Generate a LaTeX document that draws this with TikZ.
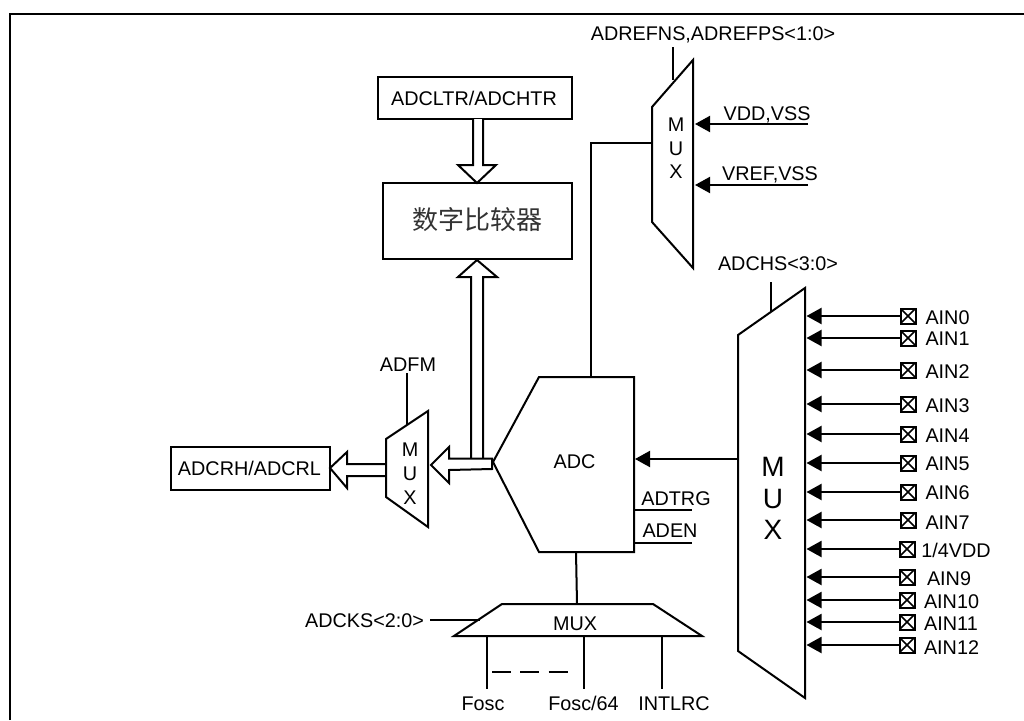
\documentclass[tikz,border=0pt]{standalone}
\usepackage{fontspec}
\setmainfont{Liberation Sans}
\newfontfamily\cjk{Noto Sans CJK SC}
\usetikzlibrary{arrows.meta}
\tikzset{
  x=1pt,y=-1pt,
  ln/.style={line width=2pt,line join=miter,black},
  box/.style={draw,line width=2pt,fill=white,inner sep=0pt,anchor=center},
  lab/.style={inner sep=0pt,font=\fontsize{19.8pt}{21pt}\selectfont,anchor=center,text height=14.2pt,text depth=0pt},
  biglab/.style={inner sep=0pt,font=\fontsize{28pt}{29pt}\selectfont,anchor=center,text height=20pt,text depth=0pt},
  sig/.style={ln,-{Triangle[length=15pt,width=16pt]}},
  pin/.style={draw,line width=2pt,minimum size=15pt,inner sep=0pt,path picture={\draw[line width=1.6pt] (path picture bounding box.north west)--(path picture bounding box.south east) (path picture bounding box.north east)--(path picture bounding box.south west);}},
  hollow/.style={ln,fill=white}
}
\begin{document}
\begin{tikzpicture}
\useasboundingbox (0,0) rectangle (1024,720);
\coordinate (fa) at (10,14);
\coordinate (fb) at (1024,14);
\coordinate (fc) at (10,720);
\draw[line width=2.6pt] (fc)--(fa)--(fb);

% boxes
\node[box,minimum width=194pt,minimum height=42pt] (ltr) at (475,98) {};
\node[lab] (ltrt) at (474,98) {ADCLTR/ADCHTR};
\node[box,minimum width=189pt,minimum height=76pt] (cmp) at (477.5,221) {};
\node[inner sep=0pt,font=\fontsize{26pt}{27pt}\selectfont\cjk,text=black!80] (cmpt) at (477.5,220) {数字比较器};
\node[box,minimum width=159pt,minimum height=43pt] (crh) at (250.5,468.5) {};
\node[lab] (crht) at (249.5,468) {ADCRH/ADCRL};

% hollow arrows
\draw[hollow] (473,119)--(473,165)--(458,165)--(477,183)--(496,165)--(483,165)--(483,119);
\draw[hollow] (471,458.5)--(471,277)--(458,277)--(477,260)--(497,277)--(483,277)--(483,458.5);
\draw[hollow] (492,458.5)--(449,458.5)--(449,447)--(431,465)--(449,483)--(449,470)--(492,469)--cycle;
\draw[hollow] (386,464)--(347,464)--(347,452)--(330,468)--(347,488)--(347,476)--(386,476);

% MUX adfm
\coordinate (ma) at (386,439);\coordinate (mb) at (428,411);\coordinate (mc) at (428,527);\coordinate (md) at (386,497);
\draw[ln] (ma)--(mb)--(mc)--(md)--cycle;
\node[lab] (m1) at (410,449) {M};
\node[lab] (m2) at (410,473) {U};
\node[lab] (m3) at (410,497) {X};
\node[lab] (adfm) at (408,364) {ADFM};
\coordinate (adfmb) at (407,425);
\draw[ln] (407,373)--(adfmb);

% ADC
\coordinate (a1) at (539,377);\coordinate (a2) at (634,377);\coordinate (a3) at (634,552);\coordinate (a4) at (539,552);\coordinate (a5) at (493,462);
\draw[ln] (a1)--(a2)--(a3)--(a4)--(a5)--cycle;
\node[lab] (adc) at (574.5,461) {ADC};
\coordinate (t1) at (634,510);\coordinate (t2) at (692,510);
\coordinate (e1) at (634,543);\coordinate (e2) at (692,543);
\draw[ln] (t1)--(t2) (e1)--(e2);
\node[lab] (adtrg) at (676,498) {ADTRG};
\node[lab] (aden) at (670,530) {ADEN};

% Top MUX
\coordinate (r1) at (652,107);\coordinate (r2) at (693,60);\coordinate (r3) at (693,268);\coordinate (r4) at (652,222);
\draw[ln] (r1)--(r2)--(r3)--(r4)--cycle;
\node[lab] (r m) at (676,124) {M};
\node[lab] (r u) at (676,148) {U};
\node[lab] (r x) at (676,171) {X};
\node[lab] (aref) at (713,33) {ADREFNS,ADREFPS<1:0>};
\coordinate (arefa) at (673,47);\coordinate (arefb) at (673,80);
\draw[ln] (arefa)--(arefb);
\node[lab] (vdd) at (767,113) {VDD,VSS};
\node[lab] (vref) at (770,173) {VREF,VSS};
\coordinate (vdde) at (808,124);\coordinate (vddi) at (695,124);
\coordinate (vrefe) at (808,185);\coordinate (vrefi) at (695,185);
\draw[sig] (vdde)--(vddi);
\draw[sig] (vrefe)--(vrefi);
\coordinate (w0) at (652,143);\coordinate (w1) at (591,143);\coordinate (w2) at (590,377);
\draw[ln] (w0)--(w1)--(w1|-w2);

% Big MUX
\coordinate (b1) at (738,335);\coordinate (b2) at (805,288);\coordinate (b3) at (805,698);\coordinate (b4) at (738,651);
\draw[ln] (b1)--(b2)--(b3)--(b4)--cycle;
\node[biglab] (bm) at (773,466) {M};
\node[biglab] (bu) at (773,498) {U};
\node[biglab] (bx) at (773,529) {X};
\node[lab] (chs) at (778,263) {ADCHS<3:0>};
\coordinate (chsa) at (771,282);\coordinate (chsb) at (771,311);
\draw[ln] (chsa)--(chsb);
\coordinate (c1) at (738,459);\coordinate (c2) at (635,459);
\draw[sig] (c1)--(c2);

% pins
\foreach \n/\y/\px in {
 p0/316/908, p1/338/908, p2/370/908, p3/404/908,
 p4/434/908, p5/463/908, p6/492/908, p7/520/908,
 p8/549/907, p9/577/907, p10/600/907, p11/622/907, p12/645/907}{
  \node[pin] (\n) at (\px,\y) {};
  \coordinate (\n i) at (806.5,\y);
  \draw[sig] (\n.west)--(\n i);
}
\node[lab] (l0) at (947.5,317) {AIN0};
\node[lab] (l1) at (947.5,338.5) {AIN1};
\node[lab] (l2) at (947.5,371) {AIN2};
\node[lab] (l3) at (947.5,405) {AIN3};
\node[lab] (l4) at (947.5,435) {AIN4};
\node[lab] (l5) at (947.5,463.5) {AIN5};
\node[lab] (l6) at (947.5,492.5) {AIN6};
\node[lab] (l7) at (947.5,522) {AIN7};
\node[lab] (l8) at (956,550) {1/4VDD};
\node[lab] (l9) at (949,578) {AIN9};
\node[lab] (l10) at (951.5,601) {AIN10};
\node[lab] (l11) at (951,623) {AIN11};
\node[lab] (l12) at (951.5,647) {AIN12};

% Bottom MUX
\coordinate (k1) at (502,604);\coordinate (k2) at (653,604);\coordinate (k3) at (702,636);\coordinate (k4) at (454,636);
\draw[ln] (k1)--(k2)--(k3)--(k4)--cycle;
\node[lab] (kmux) at (575,623) {MUX};
\coordinate (v1) at (576,552);\coordinate (v2) at (577,604);
\draw[ln] (v1)--(v2);
\node[lab] (cks) at (364.5,620) {ADCKS<2:0>};
\coordinate (cks1) at (430,620);\coordinate (cks2) at (480,620);
\draw[ln] (cks1)--(cks2);
\foreach \n/\x in {ga/487,gb/583.7,gc/662}{
  \coordinate (\n1) at (\x,636);\coordinate (\n2) at (\x,689);
  \draw[ln] (\n1)--(\n2);
}
\coordinate (d1) at (492,672);\coordinate (d2) at (568,672);
\draw[line width=2.6pt,dash pattern=on 19pt off 9.3pt] (d1)--(d2);
\node[lab] (fosc) at (483,703) {Fosc};
\node[lab] (f64) at (583.5,703) {Fosc/64};
\node[lab] (rc) at (674,703) {INTLRC};
\end{tikzpicture}
\end{document}
